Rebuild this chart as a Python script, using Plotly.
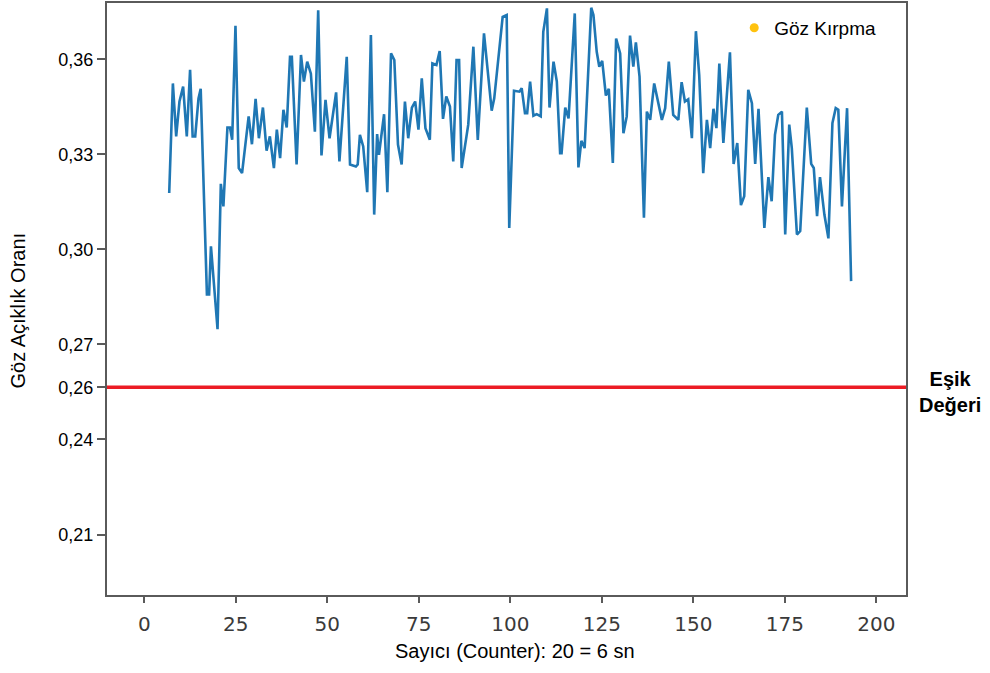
import plotly.graph_objects as go

# Eye aspect ratio per frame counter (20 counts = 6 s)
counter = [
    6.8, 7.8, 8.7, 9.6, 10.6, 11.6, 12.5, 13.2, 13.9, 14.8, 15.4, 17.1, 17.7, 18.2,
    20.0, 20.9, 21.6, 22.7, 23.4, 24.0, 24.9, 25.8, 26.7, 28.5, 29.4, 30.4, 31.3,
    32.4, 33.4, 34.3, 35.4, 36.2, 37.1, 38.0, 38.9, 39.8, 40.3, 41.6, 42.8, 43.6,
    44.5, 45.5, 46.6, 47.5, 48.4, 49.5, 50.6, 52.4, 53.3, 55.3, 56.2, 57.8, 58.3,
    58.9, 59.8, 60.9, 61.9, 62.8, 63.6, 64.1, 65.5, 66.4, 67.4, 68.3, 69.3, 70.3,
    71.2, 72.1, 73.1, 74.0, 74.9, 75.8, 76.8, 78.0, 78.7, 79.8, 80.7, 81.6, 82.5,
    83.5, 84.4, 85.3, 86.0, 86.7, 88.5, 89.9, 91.1, 92.8, 94.9, 95.6, 97.9, 99.0,
    99.7, 101.0, 102.5, 103.1, 104.0, 104.6, 105.4, 106.3, 107.2, 108.3, 109.0,
    110.0, 110.7, 111.8, 112.7, 113.6, 114.0, 115.0, 115.9, 117.6, 118.6, 119.4,
    120.3, 122.1, 122.7, 123.6, 124.3, 125.1, 126.1, 126.9, 128.0, 128.9, 130.0,
    130.9, 131.8, 132.7, 133.6, 134.3, 135.3, 136.5, 137.3, 138.2, 139.3, 140.2,
    141.4, 142.3, 143.3, 144.5, 145.9, 146.8, 147.7, 148.6, 149.6, 150.7, 151.6,
    152.7, 153.7, 154.6, 155.5, 156.3, 157.1, 158.2, 160.0, 161.0, 162.0, 163.0,
    163.9, 165.0, 166.0, 166.9, 167.8, 169.4, 170.5, 171.4, 172.3, 173.2, 174.2,
    175.1, 176.2, 176.9, 178.3, 179.2, 181.0, 182.2, 182.9, 183.8, 184.6, 185.8,
    186.9, 188.0, 188.9, 189.6, 190.6, 192.0, 193.1,
]
ratio = [
    0.3178, 0.3524, 0.3357, 0.3467, 0.3514, 0.3357, 0.3567, 0.3357, 0.3357, 0.3477,
    0.3507, 0.2858, 0.2858, 0.3010, 0.2748, 0.3207, 0.3136, 0.3385, 0.3385, 0.3346,
    0.3706, 0.3257, 0.3241, 0.3420, 0.3332, 0.3475, 0.3351, 0.3448, 0.3312, 0.3357,
    0.3257, 0.3378, 0.3288, 0.3441, 0.3385, 0.3608, 0.3608, 0.3268, 0.3614, 0.3530,
    0.3593, 0.3555, 0.3372, 0.3755, 0.3297, 0.3472, 0.3351, 0.3496, 0.3278, 0.3608,
    0.3268, 0.3262, 0.3268, 0.3362, 0.3325, 0.3181, 0.3677, 0.3110, 0.3364, 0.3299,
    0.3427, 0.3181, 0.3619, 0.3598, 0.3331, 0.3268, 0.3467, 0.3351, 0.3448, 0.3467,
    0.3378, 0.3540, 0.3383, 0.3346, 0.3587, 0.3582, 0.3626, 0.3412, 0.3483, 0.3451,
    0.3278, 0.3598, 0.3598, 0.3257, 0.3394, 0.3640, 0.3346, 0.3682, 0.3438, 0.3477,
    0.3734, 0.3740, 0.3068, 0.3501, 0.3498, 0.3509, 0.3430, 0.3430, 0.3530, 0.3422,
    0.3427, 0.3420, 0.3687, 0.3761, 0.3448, 0.3593, 0.3530, 0.3304, 0.3304, 0.3448,
    0.3414, 0.3745, 0.3259, 0.3343, 0.3320, 0.3763, 0.3740, 0.3624, 0.3577, 0.3595,
    0.3486, 0.3507, 0.3273, 0.3666, 0.3619, 0.3367, 0.3420, 0.3675, 0.3577, 0.3654,
    0.3546, 0.3100, 0.3435, 0.3409, 0.3524, 0.3477, 0.3409, 0.3446, 0.3593, 0.3425,
    0.3409, 0.3528, 0.3467, 0.3474, 0.3351, 0.3689, 0.3551, 0.3241, 0.3409, 0.3320,
    0.3444, 0.3383, 0.3587, 0.3336, 0.3622, 0.3270, 0.3336, 0.3140, 0.3168, 0.3504,
    0.3462, 0.3270, 0.3444, 0.3068, 0.3228, 0.3152, 0.3362, 0.3425, 0.3435, 0.3047,
    0.3394, 0.3320, 0.3047, 0.3058, 0.3448, 0.3270, 0.3257, 0.3105, 0.3228, 0.3110,
    0.3035, 0.3399, 0.3446, 0.3441, 0.3136, 0.3446, 0.2900,
]

# No frame fell below the threshold, so the blink series is empty
blink_counter = [None]
blink_ratio = [None]

threshold = 0.2565
y_ticks = [0.21, 0.24, threshold, 0.27, 0.30, 0.33, 0.36]
x_ticks = [0, 25, 50, 75, 100, 125, 150, 175, 200]

BLUE = "#1f77b4"
RED = "#ec1c24"
GOLD = "#ffc20e"
AXIS = "#5a5a5a"
SANS = "Liberation Sans, Arial, sans-serif"

fig = go.Figure()
fig.add_trace(go.Scatter(
    x=counter, y=ratio, mode="lines",
    line=dict(color=BLUE, width=2.6),
    showlegend=False, hoverinfo="skip",
))
fig.add_trace(go.Scatter(
    x=blink_counter, y=blink_ratio, mode="markers",
    marker=dict(color=GOLD, size=9),
    name="Göz Kırpma", showlegend=True,
))

fig.add_shape(
    type="line", xref="paper", x0=0, x1=1, yref="y", y0=threshold, y1=threshold,
    line=dict(color=RED, width=3.5), layer="above",
)

fig.update_layout(
    width=990, height=673,
    margin=dict(l=107, r=84, t=1, b=78),
    paper_bgcolor="white", plot_bgcolor="white",
    font=dict(family=SANS, color="black"),
    legend=dict(
        x=0.785, y=0.99, xanchor="left", yanchor="top",
        bgcolor="rgba(0,0,0,0)", font=dict(size=19, color="black"),
        itemwidth=30,
    ),
    annotations=[
        dict(
            text="<b>Eşik</b><br><b>Değeri</b>", xref="paper", x=1.055,
            xanchor="center", yref="y", y=threshold, yanchor="middle",
            yshift=-5, showarrow=False, align="center",
            font=dict(size=20, color="black", family=SANS),
        ),
        dict(
            text="Sayıcı (Counter): 20 = 6 sn",
            xref="paper", x=(515 - 107) / 799, xanchor="center",
            yref="paper", y=-0.095, yanchor="middle", showarrow=False,
            font=dict(size=20, color="black"),
        ),
        dict(
            text="Göz Açıklık Oranı", textangle=-90,
            xref="paper", x=-0.112, yref="paper", y=(595 - 310) / 594,
            xanchor="center", yanchor="middle", showarrow=False,
            font=dict(size=20, color="black"),
        ),
    ],
)

fig.update_xaxes(
    range=[-10.2, 208.1], tickvals=x_ticks, ticktext=[str(t) for t in x_ticks],
    showgrid=False, zeroline=False,
    showline=True, linecolor=AXIS, linewidth=2, mirror=True,
    ticks="outside", ticklen=6, tickwidth=2, tickcolor=AXIS,
    tickfont=dict(family="DejaVu Sans", size=20, color="#3a3a3a"),
    ticklabelstandoff=4,
)
fig.update_yaxes(
    range=[0.1909, 0.3778], tickvals=y_ticks,
    ticktext=[f"{t:.2f}".replace(".", ",") for t in y_ticks],
    showgrid=False, zeroline=False,
    showline=True, linecolor=AXIS, linewidth=2, mirror=True,
    ticks="outside", ticklen=8, tickwidth=2, tickcolor=AXIS,
    tickfont=dict(size=18, color="black"),
)

fig.write_html("out.html")
